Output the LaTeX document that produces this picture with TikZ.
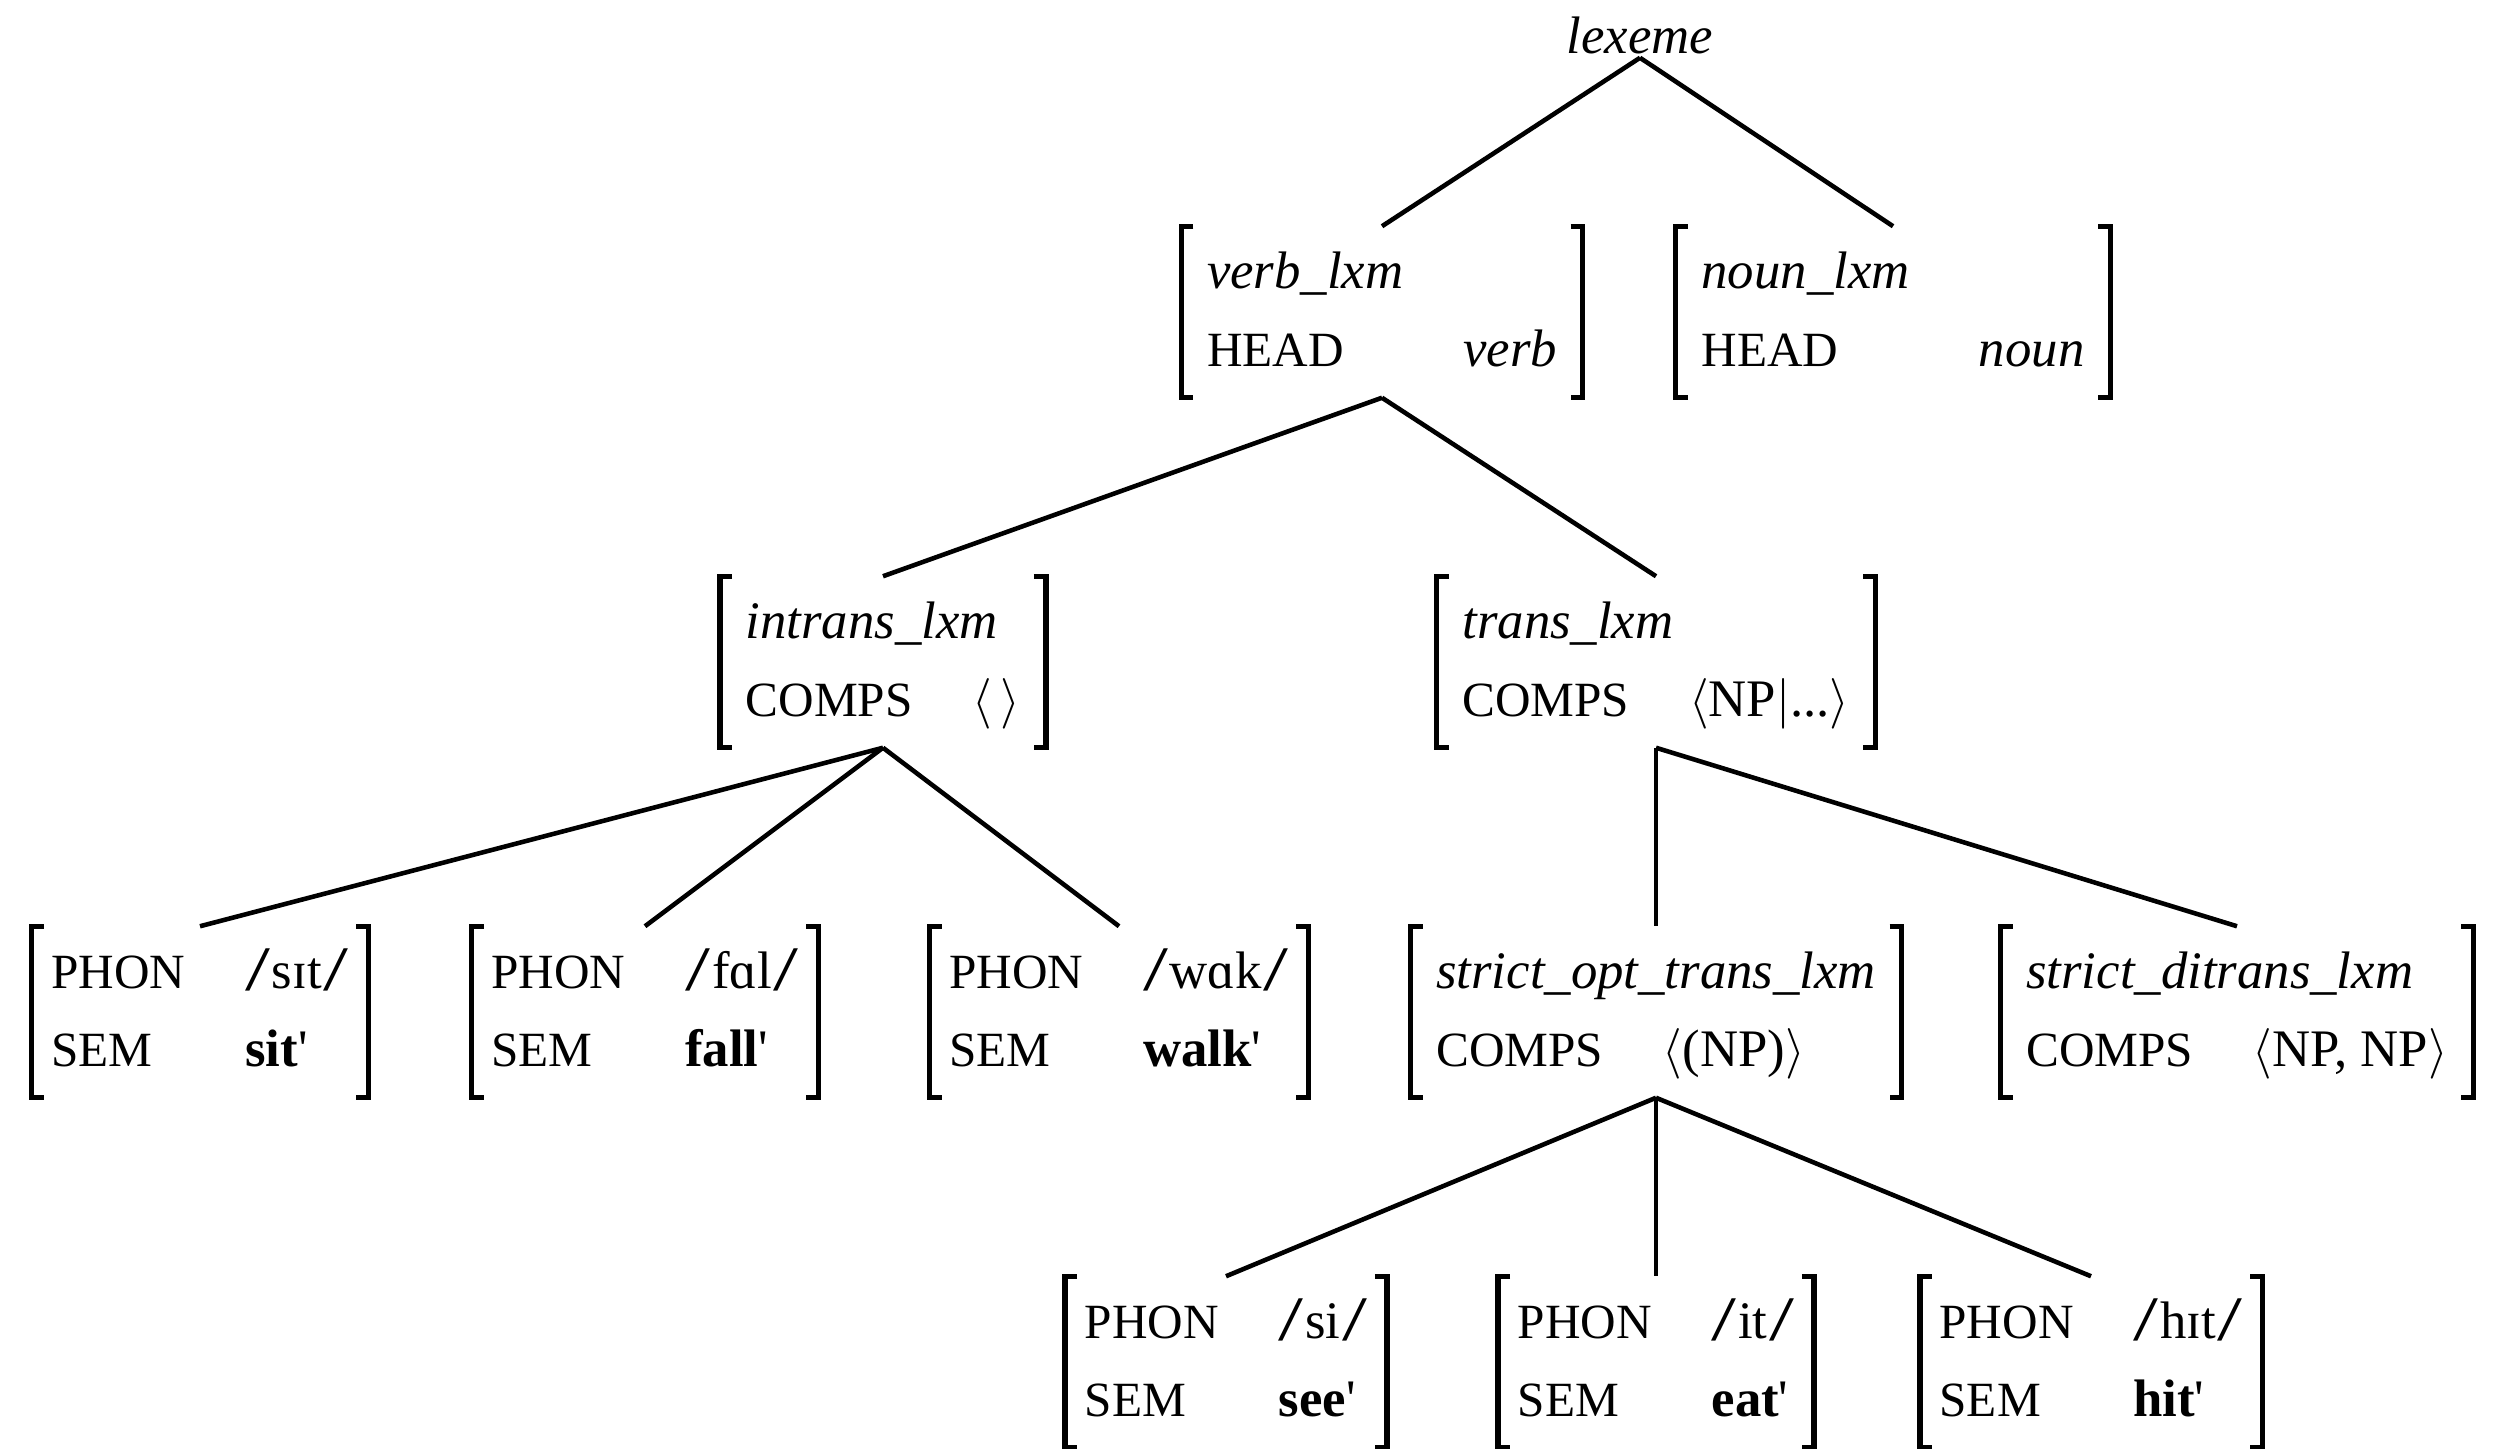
\documentclass[tikz,border=0pt]{standalone}
\usepackage{fontspec}
\setmainfont{Liberation Serif}
\newcommand{\ft}[1]{{\fontsize{14}{22}\selectfont #1}}
\newcommand{\phsl}{\raisebox{-0.5pt}{\scalebox{1.7}[1.2]{/}}}
% typed AVM: type, feature, value
\newcommand{\tavm}[3]{\begin{tabular}{@{}l@{\hspace{17pt}}l@{}}\multicolumn{2}{@{}l@{}}{\textit{#1}}\\ \ft{#2} & #3\end{tabular}}
% lexical entry: phonology, semantics
\newcommand{\pavm}[2]{\begin{tabular}{@{}l@{\hspace{17pt}}l@{}}\ft{PHON} & \phsl\kern0.5pt#1\kern0.5pt\phsl\\ \ft{SEM} & \textbf{#2}\textquotesingle\end{tabular}}
\begin{document}
\begin{tikzpicture}[x=0.01cm,y=-0.01cm,
		every node/.style={font=\fontsize{15}{22}\selectfont},
		avm/.style={inner xsep=0.25cm,inner ysep=0pt,minimum height=1.7cm},
		lex/.style={avm,inner xsep=0.19cm},
		brk/.style={line width=1.5pt},
		edge/.style={line width=1.3pt}]
		\useasboundingbox (0,0) rectangle (2512,1449);
		% root
		\node[inner sep=1pt] (lexeme) at (1640,35) {\textit{lexeme}};
		% second level
		\node[avm] (verb) at (1382,312) {\tavm{verb\_lxm}{HEAD}{\hspace{17pt}\textit{verb}}};
		\node[avm] (noun) at (1893,312) {\tavm{noun\_lxm}{HEAD}{\hspace{23pt}\textit{noun}}};
		% third level
		\node[avm] (intrans) at (883,662) {\tavm{intrans\_lxm}{COMPS}{$\langle\,\rangle$}};
		\node[avm] (trans) at (1656,662) {\tavm{trans\_lxm}{COMPS}{$\langle$NP$|$...$\rangle$}};
		% fourth level
		\node[lex] (sit) at (200,1012) {\pavm{sɪt}{sit}};
		\node[lex] (fall) at (645,1012) {\pavm{fɑl}{fall}};
		\node[lex] (walk) at (1119,1012) {\pavm{wɑk}{walk}};
		\node[avm] (sopt) at (1656,1012) {\tavm{strict\_opt\_trans\_lxm}{COMPS}{$\langle$(NP)$\rangle$}};
		\node[avm] (sdi) at (2237,1012) {\tavm{strict\_ditrans\_lxm}{COMPS}{$\langle$NP, NP$\rangle$}};
		% fifth level
		\node[lex] (see) at (1226,1362) {\pavm{si}{see}};
		\node[lex] (eat) at (1656,1362) {\pavm{it}{eat}};
		\node[lex] (hit) at (2091,1362) {\pavm{hɪt}{hit}};
		% brackets
		\foreach \n in {verb,noun,intrans,trans,sit,fall,walk,sopt,sdi,see,eat,hit}{
			\draw[brk] ([xshift=0.12cm]\n.north west) -- (\n.north west) -- (\n.south west) -- ++(0.12cm,0);
			\draw[brk] ([xshift=-0.12cm]\n.north east) -- (\n.north east) -- (\n.south east) -- ++(-0.12cm,0);
		}
		% tree
		\foreach \a/\b in {lexeme/verb,lexeme/noun,verb/intrans,verb/trans,
			intrans/sit,intrans/fall,intrans/walk,trans/sopt,trans/sdi,
			sopt/see,sopt/eat,sopt/hit}
			\draw[edge] (\a.south) -- (\b.north);
	\end{tikzpicture}
\end{document}
